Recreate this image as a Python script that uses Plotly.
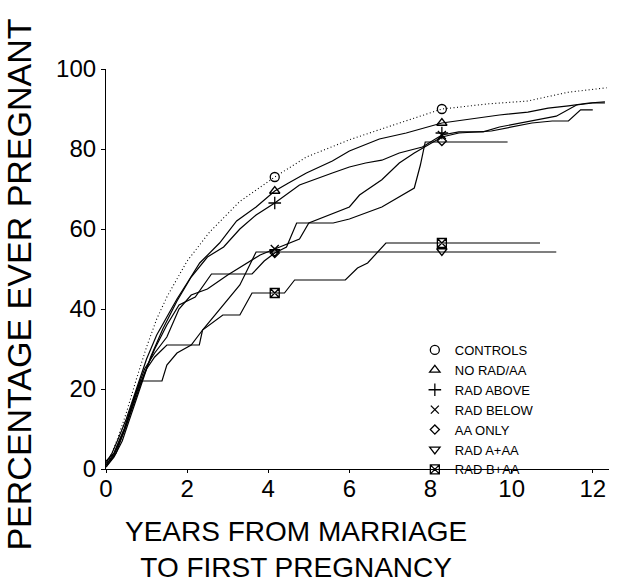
import plotly.graph_objects as go

# ---- data (years, percent) ----
controls_t = [0, 0.15, 0.3, 0.5, 0.75, 1.0, 1.25, 1.5, 2.0, 2.56, 3.29, 4.16, 4.94, 6.0, 6.73, 8.28, 9.44, 10.4, 11.4, 12.34]
controls_p = [1, 4, 8, 14, 22.5, 30.5, 37.5, 43, 52, 59.3, 66.8, 73, 78, 82.3, 84.8, 90, 91.3, 92, 94.2, 95.3]

norad_t = [0, 0.15, 0.3, 0.5, 0.75, 1.0, 1.25, 1.5, 1.75, 2.0, 2.31, 2.8, 3.22, 3.7, 4.16, 4.5, 4.94, 5.58, 6.0, 6.74, 7.4, 8.28, 9.0, 9.7, 10.4, 10.9, 11.4, 11.9, 12.3]
norad_p = [1.5, 4, 7.5, 12.5, 20, 27.5, 33.5, 38, 42.5, 46.5, 51.5, 56.5, 62, 65.5, 69.5, 71.5, 74, 77, 79.5, 82.5, 84, 86.5, 87.5, 88.5, 89.2, 90.2, 90.8, 91.5, 91.8]

radabove_t = [0, 0.2, 0.4, 0.6, 0.85, 1.1, 1.4, 1.75, 2.1, 2.5, 2.9, 3.3, 3.7, 4.16, 4.77, 5.2, 5.58, 6.0, 6.4, 6.8, 7.23, 7.8, 8.28, 8.7, 9.3, 9.7, 10.5, 11.1, 11.6, 12.0, 12.3]
radabove_p = [0.5, 3, 7, 13, 21, 28, 35, 42, 48, 53, 55.5, 60, 63.5, 66.5, 71, 72.5, 74, 75.5, 76.5, 77.2, 79, 80.5, 83.5, 84.3, 84.3, 85.5, 87, 88.2, 91, 91.5, 91.5]

radbelow_t = [0, 0.2, 0.45, 0.7, 0.95, 1.2, 1.5, 1.8, 2.1, 2.5, 3.0, 3.5, 3.8, 4.16, 4.77, 5.0, 6.0, 6.25, 6.8, 7.23, 7.6, 8.28, 8.7, 9.5, 10.0, 10.5, 11.0, 11.4, 11.7, 12.0]
radbelow_p = [1, 4, 10, 18, 25, 29, 33, 40, 43.5, 45, 48.5, 51.5, 53.5, 55, 57.5, 61.5, 65.5, 68.5, 72.3, 76.5, 79, 83, 84, 84.5, 85.5, 86.5, 87, 87, 89.8, 89.8]

aaonly_t = [0, 0.2, 0.45, 0.7, 0.95, 1.2, 1.5, 1.8, 2.2, 2.6, 3.6, 3.9, 4.16, 4.45, 4.7, 5.6, 6.0, 6.8, 7.6, 7.75, 7.87, 9.9]
aaonly_p = [1, 3.5, 9.5, 17, 24, 30, 36, 41, 43, 48.75, 48.75, 52, 54, 55.5, 61.5, 61.5, 62.5, 65.5, 70.25, 76, 81.75, 81.75]

radaaa_t = [0, 0.2, 0.45, 0.7, 0.84, 1.38, 1.5, 1.75, 2.1, 2.4, 2.8, 3.3, 3.7, 4.16, 8.28, 11.1]
radaaa_p = [2, 4, 10, 18, 22, 22, 26, 29, 31, 35, 40, 46, 54.25, 54.25, 54.25, 54.25]

radbaa_t = [0, 0.25, 0.5, 0.75, 1.0, 1.2, 1.5, 2.3, 2.38, 2.88, 3.3, 3.6, 4.16, 4.4, 4.65, 5.9, 6.2, 6.45, 6.9, 7.15, 8.28, 10.7]
radbaa_p = [0.5, 4, 11, 19, 25, 28, 31, 31, 34.75, 38.5, 38.5, 44, 44, 44, 47.25, 47.25, 50.25, 51.5, 56.5, 56.5, 56.5, 56.5]

# marker positions (years) and values read at those positions
marker_t = [4.16, 8.28]
groups = ["CONTROLS", "NO RAD/AA", "RAD ABOVE", "RAD BELOW", "AA ONLY", "RAD A+AA", "RAD B+AA"]
marker_vals = {
    "CONTROLS": [73, 90],
    "NO RAD/AA": [69.5, 86.5],
    "RAD ABOVE": [66.5, 84],
    "RAD BELOW": [55, 83.5],
    "AA ONLY": [54, 82],
    "RAD A+AA": [54.25, 54.5],
    "RAD B+AA": [44, 56.5],
}
symbols = ["circle-open", "triangle-up-open", "cross-thin-open", "x-thin-open",
           "diamond-open", "triangle-down-open", "square-x-open"]
sizes = [9, 9, 9, 8, 7, 9, 9]

x_ticks = [0, 2, 4, 6, 8, 10, 12]
y_ticks = [0, 20, 40, 60, 80, 100]
x_title = "YEARS FROM MARRIAGE<br>TO FIRST PREGNANCY"
y_title = "PERCENTAGE EVER PREGNANT"

curves = [
    (controls_t, controls_p, "1px,2.5px", 1.1),
    (norad_t, norad_p, "solid", 1.2),
    (radabove_t, radabove_p, "solid", 1.2),
    (radbelow_t, radbelow_p, "solid", 1.2),
    (aaonly_t, aaonly_p, "solid", 1.2),
    (radaaa_t, radaaa_p, "solid", 1.2),
    (radbaa_t, radbaa_p, "solid", 1.2),
]

fig = go.Figure()
for t, p, dash, w in curves:
    fig.add_trace(go.Scatter(x=t, y=p, mode="lines", showlegend=False,
                             line=dict(color="black", width=w, dash=dash),
                             hoverinfo="skip"))

for g, sym, sz in zip(groups, symbols, sizes):
    fig.add_trace(go.Scatter(x=marker_t, y=marker_vals[g], mode="markers", name=g,
                             marker=dict(symbol=sym, size=sz, color="black",
                                         line=dict(color="black", width=1.3))))

FONT = "Liberation Sans, Arial, sans-serif"
fig.update_layout(
    width=619, height=585,
    margin=dict(l=106, r=10, t=69, b=116),
    paper_bgcolor="white", plot_bgcolor="white",
    font=dict(family=FONT, color="black"),
    showlegend=True,
    legend=dict(x=0.614, y=0.335, xanchor="left", yanchor="top",
                font=dict(size=13, family=FONT), itemwidth=30,
                bgcolor="rgba(0,0,0,0)", tracegroupgap=0),
    xaxis=dict(range=[0, 12.4], tickvals=x_ticks, showgrid=False, zeroline=False,
               showline=True, linecolor="black", linewidth=1.2,
               ticks="outside", ticklen=3, tickcolor="black",
               tickfont=dict(size=24), ticklabelstandoff=-5),
    yaxis=dict(range=[0, 100], tickvals=y_ticks, showgrid=False, zeroline=False,
               showline=True, linecolor="black", linewidth=1.2,
               ticks="outside", ticklen=4, tickcolor="black",
               tickfont=dict(size=24)),
    annotations=[
        dict(text=x_title, xref="paper", yref="paper", x=0.378, y=-0.20125,
             xanchor="center", yanchor="middle", showarrow=False,
             font=dict(size=28, family=FONT)),
        dict(text=y_title, xref="paper", yref="paper", x=-0.173, y=0.461,
             xanchor="center", yanchor="middle", showarrow=False, textangle=-90,
             font=dict(size=34, family=FONT)),
    ],
)

fig.write_html("out.html")
